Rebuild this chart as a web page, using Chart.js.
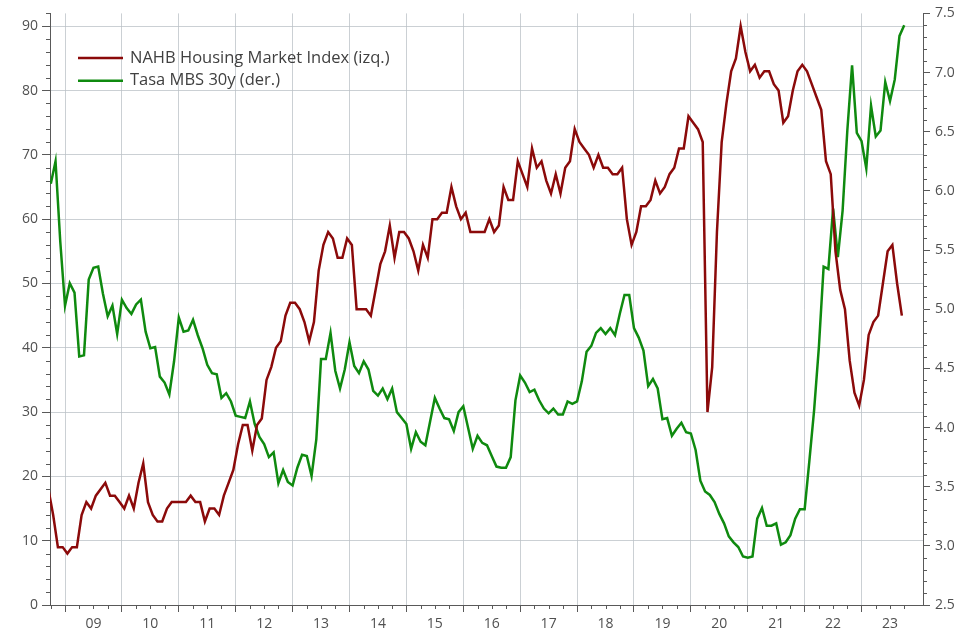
<!DOCTYPE html>
<html>
<head>
<meta charset="utf-8">
<script src="https://cdn.jsdelivr.net/npm/chart.js@4.4.0/dist/chart.umd.min.js"></script>
<style>
html,body{margin:0;padding:0;background:#ffffff;}
#wrap{width:978px;height:633px;position:relative;}
</style>
</head>
<body>
<div id="wrap"><canvas id="c" width="978" height="633"></canvas></div>
<script>
// ---- DATA ----
const seriesNames = ['NAHB Housing Market Index (izq.)', 'Tasa MBS 30y (der.)'];
const startYear = 2008;   // first month: September 2008
const startMonth = 8;     // 0 = January
// NAHB Housing Market Index, monthly (Sep 2008 - Sep 2023)
const nahb = [
  18, 14, 9, 9,
  8, 9, 9, 14, 16, 15, 17, 18, 19, 17, 17, 16,
  15, 17, 15, 19, 22, 16, 14, 13, 13, 15, 16, 16,
  16, 16, 17, 16, 16, 13, 15, 15, 14, 17, 19, 21,
  25, 28, 28, 24, 28, 29, 35, 37, 40, 41, 45, 47,
  47, 46, 44, 41, 44, 52, 56, 58, 57, 54, 54, 57,
  56, 46, 46, 46, 45, 49, 53, 55, 59, 54, 58, 58,
  57, 55, 52, 56, 54, 60, 60, 61, 61, 65, 62, 60,
  61, 58, 58, 58, 58, 60, 58, 59, 65, 63, 63, 69,
  67, 65, 71, 68, 69, 66, 64, 67, 64, 68, 69, 74,
  72, 71, 70, 68, 70, 68, 68, 67, 67, 68, 60, 56,
  58, 62, 62, 63, 66, 64, 65, 67, 68, 71, 71, 76,
  75, 74, 72, 30, 37, 58, 72, 78, 83, 85, 90, 86,
  83, 84, 82, 83, 83, 81, 80, 75, 76, 80, 83, 84,
  83, 81, 79, 77, 69, 67, 55, 49, 46, 38, 33, 31,
  35, 42, 44, 45, 50, 55, 56, 50, 45
];
// 30y MBS rate (%), month-end (Sep 2008 - Sep 2023)
const mbs = [
  6.06, 6.25, 5.57, 5.03,
  5.22, 5.14, 4.60, 4.61, 5.25, 5.35, 5.36, 5.13, 4.94, 5.03, 4.79, 5.08,
  5.01, 4.96, 5.04, 5.08, 4.81, 4.67, 4.68, 4.43, 4.38, 4.28, 4.56, 4.93,
  4.81, 4.82, 4.91, 4.78, 4.67, 4.53, 4.46, 4.45, 4.25, 4.29, 4.22, 4.10,
  4.09, 4.08, 4.22, 4.03, 3.92, 3.86, 3.75, 3.79, 3.53, 3.64, 3.54, 3.51,
  3.66, 3.77, 3.76, 3.59, 3.90, 4.58, 4.58, 4.80, 4.48, 4.33, 4.49, 4.72,
  4.52, 4.46, 4.56, 4.49, 4.31, 4.27, 4.33, 4.24, 4.33, 4.13, 4.08, 4.03,
  3.82, 3.96, 3.88, 3.85, 4.05, 4.25, 4.16, 4.08, 4.07, 3.97, 4.13, 4.18,
  4.00, 3.82, 3.93, 3.87, 3.85, 3.76, 3.67, 3.66, 3.66, 3.75, 4.23, 4.44,
  4.38, 4.30, 4.32, 4.23, 4.16, 4.12, 4.16, 4.11, 4.11, 4.22, 4.20, 4.22,
  4.39, 4.64, 4.69, 4.80, 4.84, 4.79, 4.84, 4.78, 4.96, 5.12, 5.12, 4.84,
  4.76, 4.65, 4.35, 4.41, 4.33, 4.07, 4.08, 3.93, 3.99, 4.04, 3.96, 3.95,
  3.81, 3.55, 3.46, 3.43, 3.37, 3.27, 3.19, 3.08, 3.03, 2.99, 2.91, 2.90,
  2.91, 3.23, 3.32, 3.17, 3.17, 3.19, 3.01, 3.03, 3.09, 3.23, 3.31, 3.31,
  3.72, 4.15, 4.68, 5.36, 5.34, 5.85, 5.44, 5.83, 6.51, 7.06, 6.49, 6.42,
  6.19, 6.72, 6.46, 6.51, 6.92, 6.76, 6.94, 7.31, 7.40
];
const yearLabels = ['09','10','11','12','13','14','15','16','17','18','19','20','21','22','23'];
const firstLabelYear = 2009;
const leftTicks = [0, 10, 20, 30, 40, 50, 60, 70, 80, 90];
const rightTicks = [2.5, 3.0, 3.5, 4.0, 4.5, 5.0, 5.5, 6.0, 6.5, 7.0, 7.5];
const xRange = [2008.736, 2024.08];
const leftRange = [0, 92];
const rightRange = [2.5, 7.5];

// ---- STYLE ----
const RED = '#8b0a0a';
const GREEN = '#0f8a0f';
const AXIS = '#595959';
const GRID = 'rgba(186,192,198,0.75)';
const LABEL = '#505050';
const FONT = "'Open Sans', 'Noto Sans', sans-serif";

const monthPos = (i, off) => startYear + (startMonth + i + off) / 12;
const nahbPts = nahb.map((v, i) => ({ x: monthPos(i, 0.5), y: v }));
const mbsPts = mbs.map((v, i) => ({ x: monthPos(i, 1), y: v }));

const isInt = v => Math.abs(v - Math.round(v)) < 1e-9;

const minorTicks = {
  id: 'minorTicks',
  afterDraw(chart) {
    const { ctx, chartArea: a } = chart;
    const x = chart.scales.x, y = chart.scales.y, y1 = chart.scales.y1;
    ctx.save();
    ctx.strokeStyle = AXIS;
    ctx.lineWidth = 1;
    ctx.beginPath();
    for (let q = Math.ceil(x.min * 4); q <= Math.floor(x.max * 4); q++) {
      if (q % 4 === 0) continue;
      const px = Math.round(x.getPixelForValue(q / 4)) + 0.5;
      ctx.moveTo(px, a.bottom); ctx.lineTo(px, a.bottom + 4);
    }
    for (let v = 2; v <= leftRange[1]; v += 2) {
      if (v % 10 === 0) continue;
      const py = Math.round(y.getPixelForValue(v)) + 0.5;
      ctx.moveTo(a.left - 4, py); ctx.lineTo(a.left, py);
    }
    for (let k = 26; k <= 75; k++) {
      if (k % 5 === 0) continue;
      const py = Math.round(y1.getPixelForValue(k / 10)) + 0.5;
      ctx.moveTo(a.right, py); ctx.lineTo(a.right + 4, py);
    }
    ctx.stroke();
    ctx.restore();
  }
};

const insideLegend = {
  id: 'insideLegend',
  afterDraw(chart) {
    const { ctx } = chart;
    ctx.save();
    ctx.font = "16.5px " + FONT;
    ctx.textBaseline = 'middle';
    ctx.textAlign = 'left';
    chart.data.datasets.forEach((ds, i) => {
      const yy = 58 + i * 22.7;
      ctx.strokeStyle = ds.borderColor;
      ctx.lineWidth = 2.5;
      ctx.beginPath(); ctx.moveTo(78, yy); ctx.lineTo(123, yy); ctx.stroke();
      ctx.fillStyle = '#404040';
      ctx.fillText(ds.label, 130, yy);
    });
    ctx.restore();
  }
};

new Chart(document.getElementById('c'), {
  type: 'line',
  data: {
    datasets: [
      { label: seriesNames[0], data: nahbPts, yAxisID: 'y', borderColor: RED, backgroundColor: RED,
        borderWidth: 2.5, pointRadius: 0, tension: 0, fill: false },
      { label: seriesNames[1], data: mbsPts, yAxisID: 'y1', borderColor: GREEN, backgroundColor: GREEN,
        borderWidth: 2.5, pointRadius: 0, tension: 0, fill: false }
    ]
  },
  options: {
    responsive: false,
    devicePixelRatio: 1,
    animation: false,
    layout: { padding: { top: 11, left: 0, right: 0, bottom: 0 } },
    plugins: { legend: { display: false }, tooltip: { enabled: false } },
    scales: {
      x: {
        type: 'linear', min: xRange[0], max: xRange[1],
        afterBuildTicks: s => {
          const t = [];
          for (let yr = firstLabelYear; yr < firstLabelYear + yearLabels.length; yr++) {
            t.push({ value: yr }); t.push({ value: yr + 0.5 });
          }
          s.ticks = t;
        },
        afterFit: s => { s.height = 28; },
        grid: {
          color: c => (c.tick && isInt(c.tick.value)) ? GRID : 'rgba(0,0,0,0)',
          tickColor: c => (c.tick && isInt(c.tick.value)) ? AXIS : 'rgba(0,0,0,0)',
          tickLength: 7, lineWidth: 1
        },
        border: { display: true, color: AXIS, width: 1 },
        ticks: {
          autoSkip: false, maxRotation: 0, padding: 4,
          color: LABEL, font: { family: FONT, size: 14 },
          callback: v => isInt(v) ? '' : yearLabels[Math.floor(v) - firstLabelYear]
        }
      },
      y: {
        type: 'linear', position: 'left', min: leftRange[0], max: leftRange[1],
        afterBuildTicks: s => { s.ticks = leftTicks.map(v => ({ value: v })); },
        afterFit: s => { s.width = 50; },
        grid: {
          color: c => (c.tick && c.tick.value > 0) ? GRID : 'rgba(0,0,0,0)',
          tickColor: AXIS, tickLength: 8, lineWidth: 1
        },
        border: { display: true, color: AXIS, width: 1 },
        ticks: { color: LABEL, padding: 4, font: { family: FONT, size: 14 } }
      },
      y1: {
        type: 'linear', position: 'right', min: rightRange[0], max: rightRange[1],
        afterBuildTicks: s => { s.ticks = rightTicks.map(v => ({ value: v })); },
        afterFit: s => { s.width = 55; },
        grid: { drawOnChartArea: false, tickColor: AXIS, tickLength: 7 },
        border: { display: true, color: AXIS, width: 1 },
        ticks: { color: LABEL, padding: 5, font: { family: FONT, size: 14 },
          callback: v => Number(v).toFixed(1) }
      }
    }
  },
  plugins: [minorTicks, insideLegend]
});
</script>
</body>
</html>
